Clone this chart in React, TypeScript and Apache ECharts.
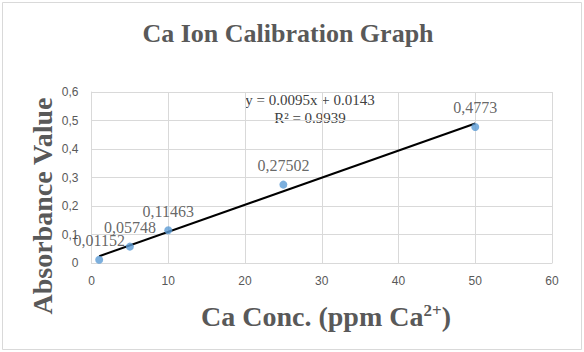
import React, { useEffect, useRef } from "react";
import * as echarts from "echarts";

const concentrations = [1, 5, 10, 25, 50];
const absorbances = [0.01152, 0.05748, 0.11463, 0.27502, 0.4773];
const labelTexts = ["0,01152", "0,05748", "0,11463", "0,27502", "0,4773"];
const trendSlope = 0.0095;
const trendIntercept = 0.0143;
const trendRange = [1, 50];
const xTicks = [0, 10, 20, 30, 40, 50, 60];
const yTickLabels = ["0", "0,1", "0,2", "0,3", "0,4", "0,5", "0,6"];

const SERIF = "'Liberation Serif', 'Times New Roman', serif";
const SANS = "'Liberation Sans', Arial, sans-serif";

export default function App() {
  const ref = useRef<HTMLDivElement>(null);
  useEffect(() => {
    if (!ref.current) return;
    const chart = echarts.init(ref.current, null, { renderer: "svg" });
    const points = concentrations.map((x, i) => [x, absorbances[i]]);
    const trend = trendRange.map((x) => [x, trendSlope * x + trendIntercept]);
    chart.setOption({
      animation: false,
      backgroundColor: "#ffffff",
      grid: { left: 91.5, right: 32, top: 92, bottom: 89, containLabel: false },
      xAxis: {
        type: "value",
        min: xTicks[0],
        max: xTicks[xTicks.length - 1],
        interval: 10,
        axisLine: { show: true, lineStyle: { color: "#d9d9d9", width: 1 } },
        axisTick: { show: false },
        splitLine: { show: true, lineStyle: { color: "#d9d9d9", width: 1 } },
        axisLabel: { color: "#595959", fontFamily: SANS, fontSize: 12, margin: 12 },
      },
      yAxis: {
        type: "value",
        min: 0,
        max: 0.6,
        interval: 0.1,
        axisLine: { show: true, lineStyle: { color: "#d9d9d9", width: 1 } },
        axisTick: { show: false },
        splitLine: { show: true, lineStyle: { color: "#d9d9d9", width: 1 } },
        axisLabel: {
          color: "#595959",
          fontFamily: SANS,
          fontSize: 12,
          margin: 13,
          formatter: (v: number) => yTickLabels[Math.round(v * 10)] ?? String(v),
        },
      },
      series: [
        {
          type: "line",
          data: trend,
          symbol: "none",
          lineStyle: { color: "#000000", width: 2 },
          silent: true,
          z: 2,
        },
        {
          type: "scatter",
          data: points,
          symbolSize: 8,
          itemStyle: { color: "#5b9bd5" },
          z: 3,
          label: {
            show: true,
            position: "top",
            distance: 7,
            color: "#404040",
            fontFamily: SERIF,
            fontSize: 16,
            formatter: (p: any) => labelTexts[p.dataIndex],
          },
        },
      ],
      graphic: [
        {
          type: "rect",
          shape: { x: 2.5, y: 2.5, width: 579, height: 347 },
          style: { fill: "none", stroke: "#d9d9d9", lineWidth: 1 },
          z: -1,
        },
        {
          type: "text",
          x: 288,
          y: 33,
          style: {
            text: "Ca Ion Calibration Graph",
            fill: "#595959",
            font: `bold 26px ${SERIF}`,
            textAlign: "center",
            textVerticalAlign: "middle",
          },
        },
        {
          type: "text",
          x: 42,
          y: 206,
          rotation: Math.PI / 2,
          style: {
            text: "Absorbance Value",
            fill: "#595959",
            font: `bold 28px ${SERIF}`,
            textAlign: "center",
            textVerticalAlign: "middle",
          },
        },
        {
          type: "text",
          x: 326,
          y: 316,
          style: {
            text: "{a|Ca Conc. (ppm Ca}{s|2+}{a|)}",
            textAlign: "center",
            textVerticalAlign: "middle",
            rich: {
              a: { fill: "#595959", fontSize: 28, fontWeight: "bold", fontFamily: SERIF },
              s: { fill: "#595959", fontSize: 17, fontWeight: "bold", fontFamily: SERIF, verticalAlign: "top", padding: [0, 0, 12, 0] },
            },
          },
        },
        {
          type: "text",
          x: 310,
          y: 100,
          style: {
            text: "y = 0.0095x + 0.0143",
            fill: "#404040",
            font: `15px ${SERIF}`,
            textAlign: "center",
            textVerticalAlign: "middle",
          },
        },
        {
          type: "text",
          x: 310,
          y: 118,
          style: {
            text: "R² = 0.9939",
            fill: "#404040",
            font: `15px ${SERIF}`,
            textAlign: "center",
            textVerticalAlign: "middle",
          },
        },
      ],
    });
    return () => chart.dispose();
  }, []);
  return <div ref={ref} style={{ width: 584, height: 352, position: "absolute", left: 0, top: 0 }} />;
}
